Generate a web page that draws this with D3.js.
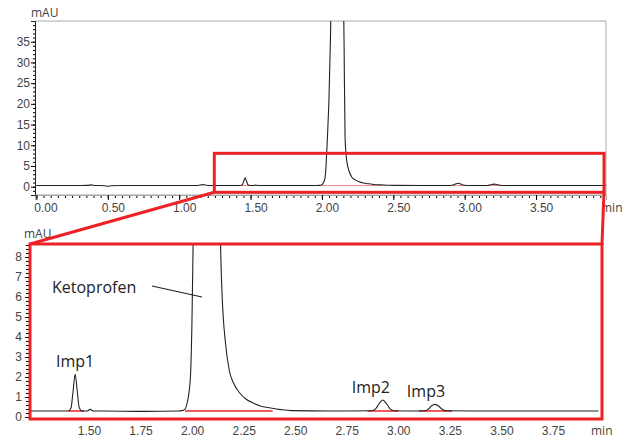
<!DOCTYPE html>
<html>
<head>
<meta charset="utf-8">
<script src="https://cdn.jsdelivr.net/npm/d3@7"></script>
<style>
  body { margin: 0; background: #fff; }
  svg { display: block; font-family: "Open Sans", "Noto Sans", sans-serif; }
  .tick text { fill: #444; font-size: 12px; }
</style>
</head>
<body>
<script>
// Chromatogram trace (time in min, signal in mAU)
const traceTime = [0.00, 0.10, 0.20, 0.30, 0.36, 0.385, 0.41, 0.48, 0.50, 0.52, 0.60, 0.80, 1.00, 1.13, 1.165, 1.20,
  1.30, 1.40, 1.43, 1.442, 1.452, 1.462, 1.472, 1.482, 1.495, 1.52, 1.535, 1.55, 1.60, 1.80, 1.96,
  1.985, 1.995, 2.005, 2.015, 2.022, 2.028, 2.034, 2.04, 2.05, 2.06, 2.07, 2.08, 2.095, 2.107,
  2.12, 2.135, 2.145, 2.155, 2.162, 2.168, 2.175, 2.19, 2.21, 2.23, 2.26, 2.29, 2.325, 2.36,
  2.41, 2.46, 2.51, 2.70, 2.90, 2.92, 2.935, 2.954, 2.973, 2.988, 3.01, 3.10, 3.16, 3.175,
  3.19, 3.207, 3.224, 3.24, 3.26, 3.40, 3.60, 3.80, 4.00];
const traceMAU = [0.30, 0.30, 0.28, 0.30, 0.32, 0.45, 0.30, 0.25, 0.05, 0.25, 0.30, 0.28, 0.30, 0.30, 0.50, 0.30,
  0.30, 0.30, 0.30, 0.46, 1.30, 2.15, 1.30, 0.46, 0.30, 0.30, 0.38, 0.30, 0.30, 0.28, 0.30,
  0.33, 0.40, 0.70, 1.30, 2.20, 4.50, 8.65, 13, 22, 36, 60, 100, 150, 170,
  155, 110, 65, 35, 12, 8.2, 6.0, 3.8, 2.3, 1.7, 1.2, 0.9, 0.7, 0.55,
  0.45, 0.37, 0.32, 0.30, 0.31, 0.42, 0.65, 0.85, 0.65, 0.42, 0.31, 0.30, 0.31, 0.40,
  0.55, 0.63, 0.55, 0.40, 0.31, 0.30, 0.30, 0.30, 0.30];

// Peak names, retention times and heights
const peakNames = ["Imp1", "Ketoprofen", "Imp2", "Imp3"];
const peakTimes = [1.462, 2.107, 2.954, 3.207];
const peakHeights = [2.15, 170, 0.85, 0.63];

// Integration baselines (start, end in min) drawn in red
const baseStart = [1.429, 1.995, 2.88, 3.13];
const baseEnd = [1.505, 2.42, 3.03, 3.29];
const baseLevel = 0.30;

// Axis ticks
const topXTicks = [0, 0.5, 1.0, 1.5, 2.0, 2.5, 3.0, 3.5];
const topYTicks = [0, 5, 10, 15, 20, 25, 30, 35];
const botXTicks = [1.5, 1.75, 2.0, 2.25, 2.5, 2.75, 3.0, 3.25, 3.5, 3.75];
const botYTicks = [0, 1, 2, 3, 4, 5, 6, 7, 8];

// Zoomed window marked on the upper chart
const zoomTimes = [1.246, 3.976];
const zoomMAU = [-1.35, 8.06];

const trace = traceTime.map((t, i) => [t, traceMAU[i]]);

const width = 625;
const height = 437;
const red = '#ec2227';

const svg = d3.select('body')
  .append('svg')
  .attr('width', width)
  .attr('height', height);

// ---------- upper chart ----------
const xTop = d3.scaleLinear().domain([-0.01, 3.99]).range([35, 606]);
const yTop = d3.scaleLinear().domain([-2, 40]).range([195, 21]);

// frame
svg.append('path')
  .attr('d', `M35,21H606V195H35`)
  .attr('fill', 'none')
  .attr('stroke', '#a8a8a8')
  .attr('stroke-width', 1);

svg.append('clipPath').attr('id', 'clipTop')
  .append('rect').attr('x', 35).attr('y', 21).attr('width', 571).attr('height', 174);

const lineTop = d3.line()
  .x(d => xTop(d[0]))
  .y(d => yTop(d[1]))
  .curve(d3.curveMonotoneX);

// minor ticks
const gTopXMinor = svg.append('g')
  .attr('transform', 'translate(0,195)')
  .call(d3.axisBottom(xTop).tickValues(d3.range(0, 80).map(i => i * 0.05)).tickSize(3).tickFormat(''));
gTopXMinor.select('.domain').remove();

const gTopX = svg.append('g')
  .attr('transform', 'translate(0,195)')
  .call(d3.axisBottom(xTop).tickValues(topXTicks).tickSize(5).tickPadding(3).tickFormat(d3.format('.2f')));
gTopX.select('.domain').attr('stroke', '#a8a8a8');
gTopX.selectAll('.tick text').attr('dx', d => d === 0 ? 9 : 5);

svg.append('text')
  .attr('x', 601).attr('y', 212)
  .attr('font-size', 12).attr('fill', '#444')
  .text('min');

const gTopYMinor = svg.append('g')
  .attr('transform', 'translate(35,0)')
  .call(d3.axisLeft(yTop).tickValues(d3.range(-2, 41)).tickSize(2).tickFormat(''));
gTopYMinor.select('.domain').remove();

const gTopY = svg.append('g')
  .attr('transform', 'translate(35,0)')
  .call(d3.axisLeft(yTop).tickValues(topYTicks).tickSize(4).tickPadding(1));
gTopY.select('.domain').attr('stroke', '#222');

svg.append('text')
  .attr('x', 31).attr('y', 17)
  .attr('font-size', 12).attr('fill', '#444')
  .text('mAU');

// red integration baselines (upper)
svg.append('g')
  .selectAll('line')
  .data(baseStart)
  .join('line')
  .attr('x1', d => xTop(d))
  .attr('x2', (d, i) => xTop(baseEnd[i]))
  .attr('y1', yTop(baseLevel))
  .attr('y2', yTop(baseLevel))
  .attr('stroke', '#f28a8a')
  .attr('stroke-width', 1);

svg.append('path')
  .datum(trace)
  .attr('clip-path', 'url(#clipTop)')
  .attr('d', lineTop)
  .attr('fill', 'none')
  .attr('stroke', '#222')
  .attr('stroke-width', 1.1);

// zoom window rectangle
svg.append('rect')
  .attr('x', xTop(zoomTimes[0]))
  .attr('y', yTop(zoomMAU[1]))
  .attr('width', xTop(zoomTimes[1]) - xTop(zoomTimes[0]))
  .attr('height', yTop(zoomMAU[0]) - yTop(zoomMAU[1]))
  .attr('fill', 'none')
  .attr('stroke', red)
  .attr('stroke-width', 3);

// ---------- lower chart ----------
const xBot = d3.scaleLinear().domain([1.243, 4.017]).range([30, 602]);
const yBot = d3.scaleLinear().domain([-0.1, 8.65]).range([419, 244]);

svg.append('clipPath').attr('id', 'clipBot')
  .append('rect').attr('x', 30).attr('y', 244).attr('width', 572).attr('height', 175);

const lineBot = d3.line()
  .x(d => xBot(d[0]))
  .y(d => yBot(d[1]))
  .curve(d3.curveMonotoneX);

const gBotX = svg.append('g')
  .attr('transform', 'translate(0,419)')
  .call(d3.axisBottom(xBot).tickValues(botXTicks).tickSize(0).tickPadding(7).tickFormat(d3.format('.2f')));
gBotX.select('.domain').remove();
gBotX.selectAll('.tick text').attr('dx', 6);

const gBotYMinor = svg.append('g')
  .attr('transform', 'translate(30,0)')
  .call(d3.axisLeft(yBot).tickValues(d3.range(0, 44).map(i => i * 0.2)).tickSize(4).tickFormat(''));
gBotYMinor.select('.domain').remove();

const gBotY = svg.append('g')
  .attr('transform', 'translate(30,0)')
  .call(d3.axisLeft(yBot).tickValues(botYTicks).tickSize(5).tickPadding(3));
gBotY.select('.domain').remove();

svg.append('text')
  .attr('x', 24).attr('y', 238)
  .attr('font-size', 12).attr('fill', '#444')
  .text('mAU');

// red integration baselines (lower)
svg.append('g')
  .selectAll('line')
  .data(baseStart)
  .join('line')
  .attr('x1', d => xBot(d))
  .attr('x2', (d, i) => xBot(baseEnd[i]))
  .attr('y1', yBot(baseLevel))
  .attr('y2', yBot(baseLevel))
  .attr('stroke', red)
  .attr('stroke-width', 1.5);

svg.append('path')
  .datum(trace)
  .attr('clip-path', 'url(#clipBot)')
  .attr('d', lineBot)
  .attr('fill', 'none')
  .attr('stroke', '#222')
  .attr('stroke-width', 1.1);

// lower frame
svg.append('rect')
  .attr('x', 30).attr('y', 244)
  .attr('width', 572).attr('height', 175)
  .attr('fill', 'none')
  .attr('stroke', red)
  .attr('stroke-width', 3);

svg.append('text')
  .attr('x', 591).attr('y', 435)
  .attr('font-size', 12).attr('fill', '#444')
  .text('min');

// connectors
svg.append('line')
  .attr('x1', xTop(zoomTimes[0])).attr('y1', yTop(zoomMAU[0]))
  .attr('x2', 30).attr('y2', 244)
  .attr('stroke', red).attr('stroke-width', 3);
svg.append('line')
  .attr('x1', xTop(zoomTimes[1])).attr('y1', yTop(zoomMAU[0]))
  .attr('x2', 602).attr('y2', 244)
  .attr('stroke', red).attr('stroke-width', 3);

// peak labels
const labelDx = [0, 0, -12, -9];
svg.append('g')
  .selectAll('text')
  .data(peakNames.filter((d, i) => i !== 1))
  .join('text')
  .attr('x', d => {
    const i = peakNames.indexOf(d);
    return xBot(peakTimes[i]) + labelDx[i];
  })
  .attr('y', d => {
    const i = peakNames.indexOf(d);
    return yBot(peakHeights[i]) - 7;
  })
  .attr('text-anchor', 'middle')
  .attr('font-size', 16)
  .attr('fill', '#222')
  .text(d => d);

svg.append('text')
  .attr('x', 52).attr('y', 293)
  .attr('font-size', 16)
  .attr('fill', '#222')
  .text(peakNames[1]);

svg.append('line')
  .attr('x1', 152).attr('y1', 286)
  .attr('x2', 202).attr('y2', 297)
  .attr('stroke', '#222').attr('stroke-width', 1.2);
</script>
</body>
</html>
